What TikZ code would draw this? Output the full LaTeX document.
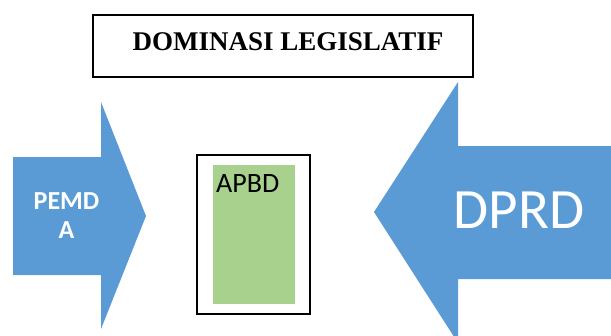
\documentclass[tikz,border=0pt]{standalone}
\usepackage{fontspec}
\setmainfont{Liberation Serif}
\newfontfamily\calibri{Carlito}
\usepackage{xcolor}
\definecolor{panahbiru}{HTML}{5B9BD5}
\definecolor{apbdhijau}{HTML}{A9D18E}

\begin{document}
\begin{tikzpicture}[x=1pt,y=-1pt]
\tikzset{
 kotak/.style={draw=black,line width=1.3pt},
 putih/.style={text=white,inner sep=0pt}
}
\useasboundingbox (0,0) rectangle (611,335);
\clip (0,0) rectangle (611,335);
\draw[kotak] (93,15) rectangle (473,77);
\node[anchor=base,inner sep=0pt,font=\bfseries\fontsize{27}{27}\selectfont] (judul) at (288,50) {DOMINASI LEGISLATIF};
\fill[panahbiru] (13,157) -- (101,157) -- (101,102) -- (146,216) -- (101,329) -- (101,275) -- (13,275) -- cycle;
\node[putih,align=center,font=\calibri\bfseries\fontsize{26}{29}\selectfont] (pemda) at (66.5,215.5) {PEMD\\A};
\fill[panahbiru] (611,146) -- (458,146) -- (458,82) -- (374,212) -- (458,343) -- (458,279) -- (611,279) -- cycle;
\node[putih,anchor=base,font=\calibri\fontsize{57}{57}\selectfont] (dprd) at (519,228) {DPRD};
\draw[kotak] (197,155) rectangle (310,314);
\fill[apbdhijau] (213,165) rectangle (295,304);
\node[anchor=base west,inner sep=0pt,font=\calibri\fontsize{28}{28}\selectfont] (apbd) at (216,192) {APBD};
\end{tikzpicture}
\end{document}
